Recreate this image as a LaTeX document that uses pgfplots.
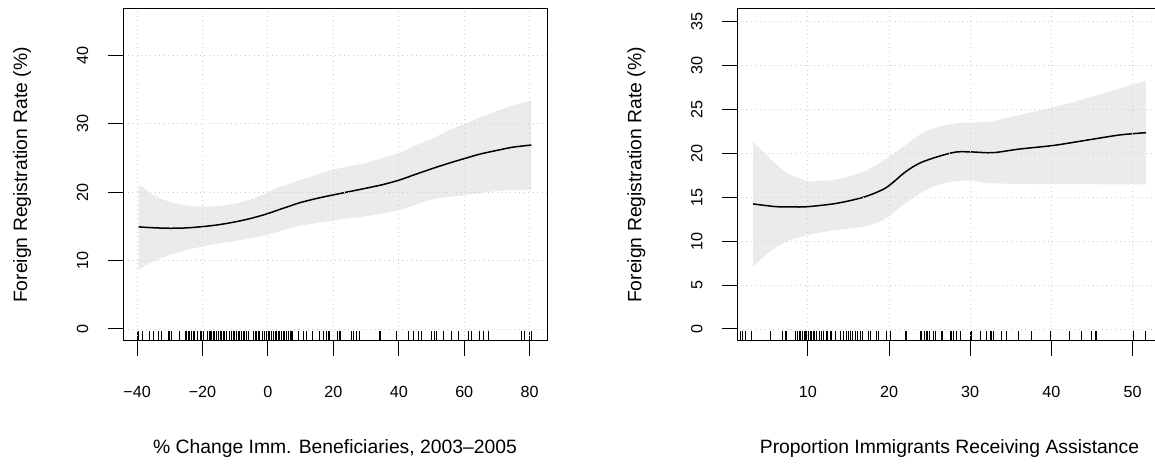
\documentclass[border=0pt]{standalone}
\usepackage{fontspec}
\setmainfont{Liberation Sans}
\usepackage{pgfplots}
\pgfplotsset{compat=1.18}
\usepgfplotslibrary{fillbetween}
\definecolor{band}{RGB}{235,235,235}
\definecolor{gridc}{RGB}{205,205,205}
\pgfplotsset{
  rpanel/.style={
    scale only axis, height=332bp, anchor=south west,
    axis on top,
    axis line style={line width=1bp, black},
    tick align=outside, major tick length=15bp,
    tick style={line width=1bp, black},
    xtick pos=bottom, ytick pos=left,
    grid=major,
    major grid style={gridc, line width=0.9bp, dash pattern=on 1bp off 3.5bp},
    ticklabel style={font=\fontsize{16.2}{16.2}\selectfont},
    label style={font=\fontsize{19.4}{19.4}\selectfont},
    xticklabel style={anchor=base, inner sep=0pt, yshift=-41.3bp},
    yticklabel style={xshift=-20bp, rotate=90, anchor=base, inner sep=0pt},
    ylabel style={at={(axis description cs:-0.238,0.5)}, anchor=center},
    xlabel style={at={(axis description cs:0.5,-0.338)}, anchor=base},
    clip=true,
  },
}
\begin{document}
\begin{tikzpicture}
% ---------------- left panel
\begin{axis}[rpanel, at={(123bp,127bp)}, width=424bp,
  xmin=-44.3, xmax=85.3, ymin=-1.76, ymax=46.8,
  xtick={-40,-20,0,20,40,60,80},
  xticklabels={−40,−20,0,20,40,60,80},
  ytick={0,10,20,30,40}, yticklabels={0,10,20,30,40},
  xlabel={\% Change Imm. Beneficiaries, 2003–2005},
  ylabel={Foreign Registration Rate (\%)}]
\addplot[name path=up, draw=none, smooth] coordinates {
(-39.5,21.2) (-35.1,19.6) (-30,18.6) (-23.9,18.0) (-19.8,17.9) (-15,18.0) (-9.6,18.4) (-5,19.0) (-0.5,19.85) (2.5,20.6) (5.6,21.1) (10,21.8) (15,22.6) (19.9,23.3) (25,23.8) (30.1,24.3) (35,25.0) (40.3,25.8) (45,26.8) (50.5,27.9) (55,29.0) (60.6,30.1) (65,31.0) (70.8,32.0) (75,32.7) (80.5,33.4)};
\addplot[name path=lo, draw=none, smooth] coordinates {
(-39.5,8.7) (-35.1,9.85) (-30,10.8) (-25,11.5) (-19.8,12.1) (-15,12.5) (-9.6,12.9) (-5,13.3) (-0.5,13.75) (5.6,14.6) (10,15.1) (15,15.5) (19.9,15.85) (25,16.2) (30.1,16.5) (35,16.9) (40.3,17.4) (43,17.8) (46.4,18.4) (50,18.9) (55,19.3) (60.6,19.6) (65,19.9) (70.8,20.2) (75,20.3) (80.5,20.4)};
\addplot[band, draw=none] fill between[of=up and lo];
\addplot[black, line width=1.5bp, smooth] coordinates {
(-39.5,14.93) (-35,14.8) (-30,14.73) (-25,14.78) (-19.8,14.98) (-15,15.25) (-9.6,15.7) (-5,16.2) (-0.5,16.8) (2.5,17.3) (5.6,17.8) (10,18.5) (15,19.1) (19.9,19.6) (25,20.1) (30.1,20.6) (35,21.1) (40.3,21.8) (45,22.6) (50.5,23.5) (55,24.2) (60.6,25.0) (65,25.6) (70.8,26.2) (75,26.6) (80.5,26.9)};
\addplot[only marks, mark=|, mark size=5bp, mark options={line width=0.6bp, black}] table[x index=0, y expr=-1.03] {
-40.0
-39.5
-38.4
-36.3
-35.1
-33.6
-32.6
-30.5
-30.0
-29.5
-27.0
-25.4
-24.9
-24.4
-23.9
-23.4
-22.9
-22.4
-21.7
-20.8
-20.3
-19.8
-18.6
-18.0
-17.6
-17.2
-16.8
-16.3
-15.8
-15.2
-14.7
-14.2
-13.7
-13.2
-12.7
-11.7
-11.2
-10.7
-10.2
-9.6
-9.1
-8.6
-8.1
-7.6
-7.1
-6.6
-6.1
-4.6
-4.0
-3.5
-3.0
-2.5
-1.7
-1.0
-0.5
0.0
0.5
1.1
1.6
2.1
2.6
3.1
3.6
4.1
4.6
5.1
5.6
6.1
6.7
7.2
7.5
9.2
10.7
11.7
13.6
15.8
17.0
17.9
18.4
18.9
21.1
21.7
22.1
25.5
26.0
27.0
28.0
34.0
34.4
39.3
42.8
44.3
45.9
46.9
50.0
51.0
51.5
53.5
56.1
58.1
61.2
62.2
64.7
65.7
67.3
77.5
78.5
79.8
80.6
};
\end{axis}
% ---------------- right panel
\begin{axis}[rpanel, at={(737.3bp,127bp)}, width=424.4bp,
  xmin=1.32, xmax=53.58, ymin=-1.37, ymax=36.45,
  xtick={10,20,30,40,50}, xticklabels={10,20,30,40,50},
  ytick={0,5,10,15,20,25,30,35}, yticklabels={0,5,10,15,20,25,30,35},
  xlabel={Proportion Immigrants Receiving Assistance},
  ylabel={Foreign Registration Rate (\%)}]
\addplot[name path=up, draw=none, smooth] coordinates {
(3.26,21.34) (5.32,19.44) (7.37,17.8) (10,16.86) (11.48,16.86) (13.53,17.05) (16.82,17.9) (19.28,19.17) (21.75,20.77) (24.2,22.36) (26.26,23.04) (28.7,23.5) (30.37,23.5) (32.8,23.69) (36.1,24.37) (40.2,25.25) (44.3,26.27) (48.4,27.41) (51.64,28.28)};
\addplot[name path=lo, draw=none, smooth] coordinates {
(3.26,7.1) (5.32,8.8) (7.37,9.95) (10,10.7) (13.53,11.28) (16.82,11.66) (19.28,12.41) (21.75,14.12) (24.2,15.64) (26.26,16.48) (28.7,16.86) (30.37,16.86) (32.8,16.59) (40.2,16.5) (51.64,16.48)};
\addplot[band, draw=none] fill between[of=up and lo];
\addplot[black, line width=1.5bp, smooth] coordinates {
(3.26,14.24) (6.14,13.93) (8,13.9) (10,13.93) (13.53,14.31) (16.82,15.0) (19.28,15.9) (20.5,16.7) (21.75,17.7) (23,18.5) (24.2,19.06) (26.26,19.7) (28.3,20.16) (30.37,20.16) (32.8,20.08) (36.1,20.5) (40.2,20.9) (44.3,21.5) (48.4,22.1) (51.64,22.36)};
\addplot[only marks, mark=|, mark size=5bp, mark options={line width=0.6bp, black}] table[x index=0, y expr=-0.80] {
1.70
1.95
2.36
3.06
5.40
6.88
7.17
7.37
8.40
8.52
8.69
8.93
9.10
9.34
9.51
9.67
9.84
10.04
10.25
10.45
10.66
10.86
11.07
11.40
11.68
11.89
12.22
12.38
12.71
12.92
13.33
14.02
14.35
14.68
14.97
15.26
15.50
15.79
16.08
16.41
16.74
17.43
17.64
18.46
18.67
19.69
20.10
20.18
21.95
22.16
23.80
24.00
24.29
24.54
24.70
24.95
25.44
25.65
26.47
26.59
27.50
27.70
27.91
28.32
28.73
30.04
30.16
31.27
32.01
32.42
32.63
32.83
33.86
34.48
35.91
37.56
39.82
42.20
43.72
44.95
45.36
45.56
50.08
51.60
};
\end{axis}
\pgfresetboundingbox
\path[use as bounding box] (0,0) rectangle (1155bp,468bp);
\end{tikzpicture}
\end{document}
